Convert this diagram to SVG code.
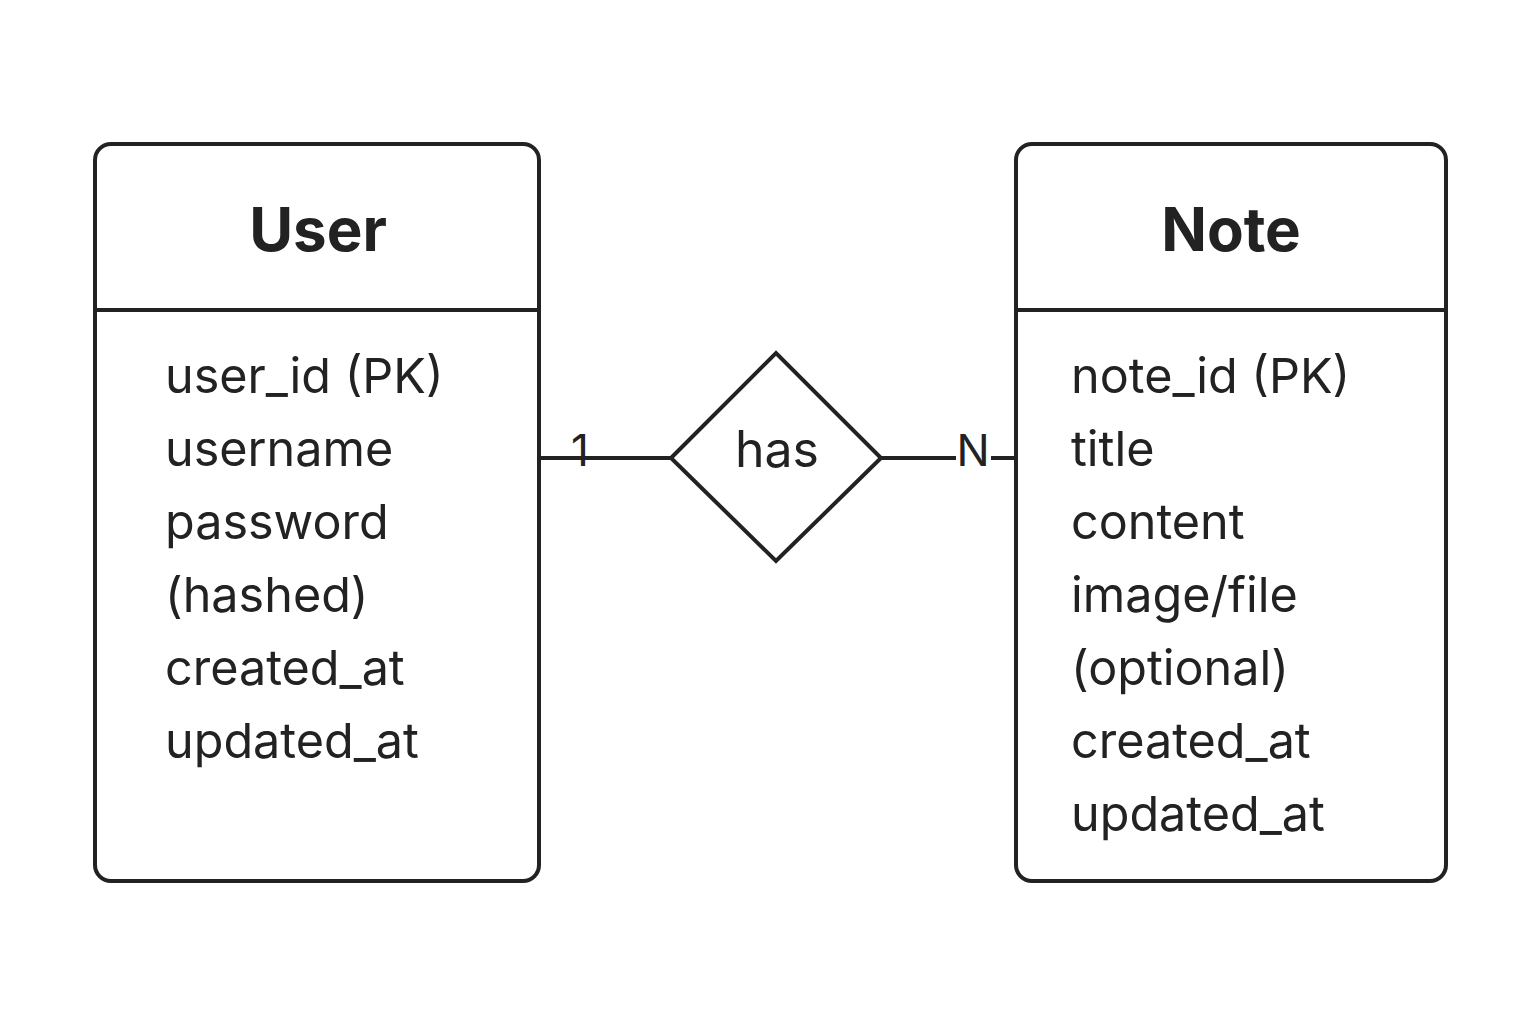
<svg xmlns="http://www.w3.org/2000/svg" width="1536" height="1024" viewBox="0 0 1536 1024">
  <style>
    .box { fill: #ffffff; stroke: #222222; stroke-width: 4; }
    .line { stroke: #222222; stroke-width: 4; fill: none; }
    .title { font-family: Inter, "Liberation Sans", sans-serif; font-size: 60px; font-weight: 700; fill: #222222; text-anchor: middle; }
    .attr { font-family: Inter, "Liberation Sans", sans-serif; font-size: 48.5px; fill: #222222; }
    .lbl { font-family: Inter, "Liberation Sans", sans-serif; font-size: 44px; fill: #222222; }
  </style>
  <rect width="1536" height="1024" fill="#ffffff"/>

  <!-- relationship connectors -->
  <g id="connectors">
    <line class="line" x1="539" y1="458" x2="671" y2="458"/>
    <line class="line" x1="881" y1="458" x2="956" y2="458"/>
    <line class="line" x1="991" y1="458" x2="1016" y2="458"/>
    <text class="lbl" x="580" y="466" text-anchor="middle">1</text>
    <text class="lbl" x="973" y="466" text-anchor="middle">N</text>
  </g>

  <!-- User entity -->
  <g id="user">
    <rect class="box" x="95" y="144" width="444" height="737" rx="16"/>
    <line class="line" x1="95" y1="310" x2="539" y2="310"/>
    <text class="title" x="318" y="251">User</text>
    <text class="attr" x="165" y="393">user_id (PK)</text>
    <text class="attr" x="165" y="466">username</text>
    <text class="attr" x="165" y="539">password</text>
    <text class="attr" x="165" y="612">(hashed)</text>
    <text class="attr" x="165" y="685">created_at</text>
    <text class="attr" x="165" y="758">updated_at</text>
  </g>

  <!-- has relationship -->
  <g id="has">
    <polygon class="box" points="671,458 776,353 881,458 776,561"/>
    <text class="lbl" x="777" y="467" text-anchor="middle" style="font-size:50px">has</text>
  </g>

  <!-- Note entity -->
  <g id="note">
    <rect class="box" x="1016" y="144" width="430" height="737" rx="16"/>
    <line class="line" x1="1016" y1="310" x2="1446" y2="310"/>
    <text class="title" x="1231" y="251">Note</text>
    <text class="attr" x="1071" y="393">note_id (PK)</text>
    <text class="attr" x="1071" y="466">title</text>
    <text class="attr" x="1071" y="539">content</text>
    <text class="attr" x="1071" y="612">image/file</text>
    <text class="attr" x="1071" y="685">(optional)</text>
    <text class="attr" x="1071" y="758">created_at</text>
    <text class="attr" x="1071" y="831">updated_at</text>
  </g>
</svg>
